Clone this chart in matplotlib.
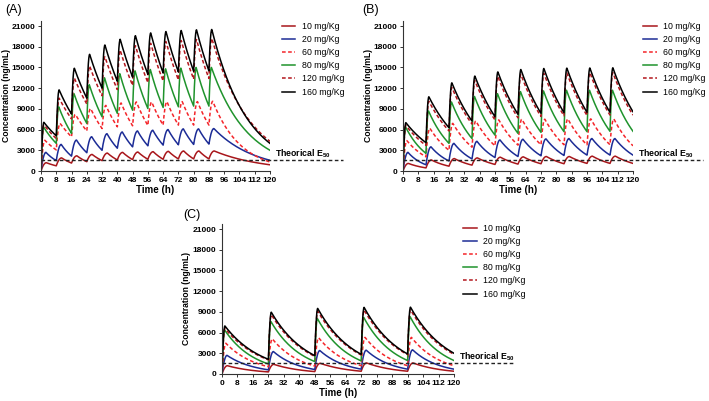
import numpy as np
import matplotlib
matplotlib.use("Agg")
import matplotlib.pyplot as plt

plt.rcParams['font.family'] = ['Liberation Sans', 'DejaVu Sans']
plt.rcParams['mathtext.fontset'] = 'custom'
plt.rcParams['mathtext.bf'] = 'Liberation Sans:bold'

# legend order
labels = ['10 mg/Kg', '20 mg/Kg', '60 mg/Kg', '80 mg/Kg', '120 mg/Kg', '160 mg/Kg']
colors = ['#a8161b', '#1c2c96', '#f4252a', '#1f932c', '#b3161d', '#000000']
styles = ['-', '-', '--', '-', '--', '-']
t_peak = [2.8, 2.6, 2.0, 1.3, 1.5, 1.5]   # hours after dose to the peak

e50 = 1600

# (A) dosing every 8 h
doses_A = [0, 8, 16, 24, 32, 40, 48, 56, 64, 72, 80, 88]
peaks_A = [
    [1200, 1900, 2200, 2400, 2600, 2700, 2750, 2800, 2850, 2900, 2900, 2900],
    [2700, 3850, 4480, 4960, 5400, 5650, 5800, 5900, 6000, 6100, 6100, 6150],
    [4450, 6900, 8200, 9050, 9500, 9850, 10000, 10000, 10050, 10050, 10050, 10100],
    [6400, 9300, 11200, 12500, 13500, 14100, 14500, 14700, 14800, 14900, 15000, 15000],
    [6700, 10550, 13450, 15200, 16550, 17500, 18150, 18500, 18750, 18900, 19050, 19200],
    [7050, 11750, 14880, 16900, 18250, 19080, 19600, 20000, 20200, 20350, 20450, 20500],
]
troughs_A = [
    [750, 1150, 1350, 1500, 1600, 1650, 1700, 1700, 1750, 1750, 1750, 900],
    [1500, 2150, 2650, 3000, 3300, 3500, 3650, 3750, 3800, 3850, 3900, 1550],
    [3050, 4950, 5800, 6150, 6400, 6550, 6600, 6650, 6650, 6650, 6650, 1300],
    [4000, 5450, 6900, 7850, 8350, 8800, 9050, 9200, 9300, 9400, 9400, 3000],
    [4700, 7550, 9700, 10900, 11800, 12400, 12800, 13050, 13200, 13300, 13400, 4300],
    [5100, 8250, 10550, 12000, 13000, 13600, 14000, 14200, 14350, 14450, 14500, 4000],
]

# (B) dosing every 12 h
doses_B = [0, 12, 24, 36, 48, 60, 72, 84, 96, 108]
peaks_B = [
    [1100, 1600, 1800, 1900, 2000, 2050, 2100, 2100, 2150, 2150],
    [2700, 3500, 4000, 4300, 4500, 4600, 4650, 4700, 4700, 4700],
    [4400, 6200, 6900, 7250, 7400, 7500, 7500, 7550, 7550, 7550],
    [6400, 8700, 10000, 10800, 11200, 11500, 11600, 11700, 11700, 11700],
    [6600, 10100, 12100, 13100, 13700, 14000, 14150, 14200, 14250, 14250],
    [7000, 10750, 12770, 13750, 14350, 14700, 14850, 14900, 14920, 14950],
]
troughs_B = [
    [450, 700, 850, 950, 1000, 1050, 1050, 1100, 1100, 1100],
    [900, 1450, 1750, 1950, 2100, 2200, 2250, 2300, 2300, 2300],
    [2050, 3000, 3450, 3650, 3750, 3800, 3800, 3800, 3800, 3650],
    [2550, 4000, 4700, 5200, 5450, 5600, 5700, 5700, 5750, 5750],
    [3700, 5800, 6800, 7400, 7700, 7900, 8000, 8050, 8100, 8100],
    [4100, 6270, 7230, 7860, 8200, 8350, 8450, 8500, 8500, 8580],
]

# (C) dosing every 24 h
doses_C = [0, 24, 48, 72, 96]
peaks_C = [
    [1200, 1400, 1550, 1600, 1600],
    [2700, 3250, 3400, 3450, 3500],
    [4450, 5100, 5250, 5300, 5300],
    [6400, 7600, 8050, 8200, 8300],
    [6600, 8600, 9100, 9250, 9300],
    [6960, 8950, 9500, 9650, 9680],
]
troughs_C = [
    [300, 350, 400, 400, 400],
    [600, 650, 700, 700, 700],
    [1050, 1150, 1200, 1200, 1200],
    [1450, 1800, 1900, 1950, 1950],
    [2050, 2550, 2750, 2800, 2850],
    [2130, 2660, 2850, 2900, 3000],
]

t_end = 120


def build_curve(doses, peaks, troughs, tp):
    # join the read peak / trough values: quick rise, then decay
    ts, cs = [], []
    start = 0.0
    for k, t0 in enumerate(doses):
        t1 = doses[k + 1] if k + 1 < len(doses) else t_end
        cp, c1 = peaks[k], troughs[k]
        s = np.linspace(0, 1, 25)
        ts.append(t0 + s * tp)
        cs.append(start + (cp - start) * (1 - (1 - s) ** 2))
        u = np.linspace(0, 1, 80)[1:]
        ts.append(t0 + tp + u * (t1 - t0 - tp))
        cs.append(cp * (c1 / cp) ** u)
        start = c1
    return np.concatenate(ts), np.concatenate(cs)


fig = plt.figure(figsize=(7.09, 4.01), dpi=100)

ax_h = 150.5 / 401
panels = [
    ('(A)', doses_A, peaks_A, troughs_A, [41 / 709, 1 - 171 / 401, 229 / 709, ax_h],
     (5 / 709, 1 - 10 / 401), (281.5 / 709, 1 - 22 / 401), 158),
    ('(B)', doses_B, peaks_B, troughs_B, [403 / 709, 1 - 171 / 401, 230 / 709, ax_h],
     (362 / 709, 1 - 10 / 401), (643 / 709, 1 - 22 / 401), 156.5),
    ('(C)', doses_C, peaks_C, troughs_C, [222 / 709, 1 - 374 / 401, 232 / 709, ax_h],
     (183 / 709, 1 - 215 / 401), (463 / 709, 1 - 224 / 401), 150.5),
]

for name, doses, peaks, troughs, rect, lab_xy, leg_xy, e50_end in panels:
    ax = fig.add_axes(rect)
    for i in range(len(labels)):
        t, c = build_curve(doses, peaks[i], troughs[i], t_peak[i])
        line, = ax.plot(t, c, color=colors[i], ls=styles[i], lw=1.1, label=labels[i])
        if styles[i] == '--':
            line.set_dashes((2.4, 1.6))
    ax.plot([0, e50_end], [e50, e50], color='#222222', lw=1.0, dashes=(2.6, 1.8), clip_on=False)
    ax.text(122.5, e50 + 850, r'Theorical E$_{\mathbf{50}}$', fontsize=6.3, fontweight='bold',
            ha='left', va='center', clip_on=False)

    ax.set_xlim(0, 120)
    ax.set_ylim(0, 21800)
    ax.set_xticks(np.arange(0, 121, 8))
    ax.set_yticks(np.arange(0, 21001, 3000))
    for side in ['top', 'right']:
        ax.spines[side].set_visible(False)
    for side in ['left', 'bottom']:
        ax.spines[side].set_linewidth(0.8)
        ax.spines[side].set_color('#333333')
    ax.tick_params(length=2.5, width=0.7, pad=1.5, labelsize=6, color='#333333')
    for lb in ax.get_xticklabels() + ax.get_yticklabels():
        lb.set_fontweight('bold')
    ax.set_xlabel('Time (h)', fontsize=7, fontweight='bold')
    ax.set_ylabel('Concentration (ng/mL)', fontsize=6.2, fontweight='bold')
    ax.xaxis.set_label_coords(0.5, -0.09)
    ax.yaxis.set_label_coords(-0.132, 0.5)

    fig.text(lab_xy[0], lab_xy[1], name, fontsize=9, ha='left', va='center')
    ax.legend(loc='upper left', bbox_to_anchor=leg_xy, bbox_transform=fig.transFigure,
              frameon=False, fontsize=6.3, handlelength=1.55, handletextpad=0.75,
              labelspacing=0.47, borderpad=0, borderaxespad=0)

fig.savefig('out.png', dpi=100)
